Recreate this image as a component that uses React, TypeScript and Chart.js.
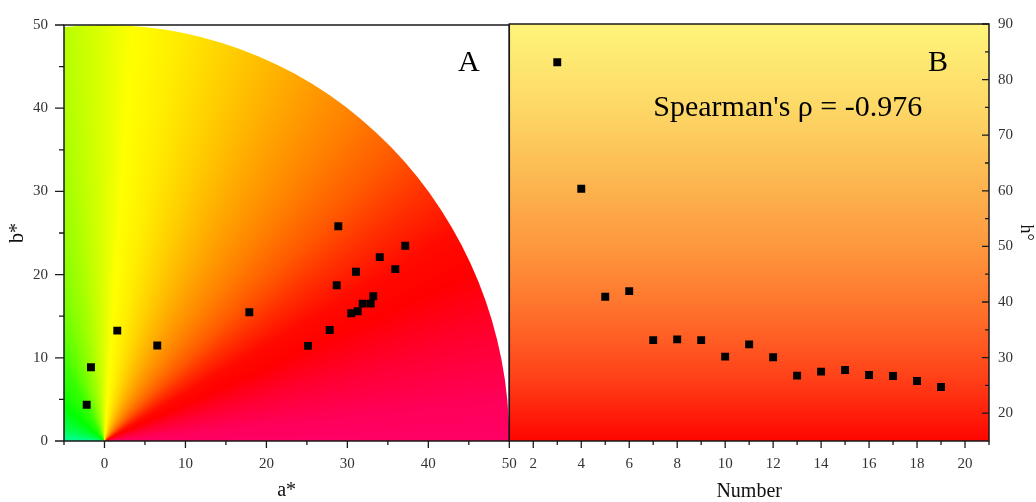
import React, { useEffect, useRef } from 'react';
import { Chart, registerables } from 'chart.js';

Chart.register(...registerables);

// ---------- data ----------
const aStar = [-2.2, -1.67, 1.58, 6.52, 17.89, 25.14, 27.82, 28.68, 31.06, 35.92, 30.48, 31.27, 31.89, 32.88, 33.2, 37.15, 34.0, 28.88];
const bStar = [4.35, 8.87, 13.27, 11.47, 15.47, 11.43, 13.35, 18.71, 20.35, 20.66, 15.35, 15.59, 16.51, 16.51, 17.39, 23.47, 22.1, 25.82];

const sampleNumber = [3, 4, 5, 6, 7, 8, 9, 10, 11, 12, 13, 14, 15, 16, 17, 18, 19];
const hueAngle = [83.12, 60.38, 40.94, 41.95, 33.15, 33.28, 33.15, 30.17, 32.38, 30.05, 26.76, 27.48, 27.77, 26.87, 26.69, 25.79, 24.72];

const aTicks = [0, 10, 20, 30, 40, 50];
const aMinor = [-5, 5, 15, 25, 35, 45];
const bTicks = [0, 10, 20, 30, 40, 50];
const bMinor = [5, 15, 25, 35, 45];
const numTicks = [2, 4, 6, 8, 10, 12, 14, 16, 18, 20];
const numMinor = [3, 5, 7, 9, 11, 13, 15, 17, 19, 21];
const hTicks = [20, 30, 40, 50, 60, 70, 80, 90];
const hMinor = [25, 35, 45, 55, 65, 75, 85];

const CHROMA_MAX = 50;
const labelA = 'A';
const labelB = 'B';
const spearmanText = "Spearman's \u03C1 = -0.976";

// hue angle -> colour (style for the background wheel)
const hueStops: [number, string][] = [
  [180, '#00FF99'], [165, '#00FF50'], [140, '#00FF00'], [118, '#38FF00'], [108, '#70FF00'],
  [98, '#A8FF00'], [91, '#D8FF00'], [86, '#FFFF00'], [80, '#FFEE00'], [72, '#FFD000'],
  [62, '#FFA800'], [52, '#FF8000'], [44, '#FF5A00'], [37, '#FF3000'], [30, '#FF0A00'],
  [24, '#FF0000'], [15, '#FF0030'], [6, '#FF0058'], [0, '#FF0066'],
];
const vertStops: [number, string][] = [
  [0, '#FFF57A'], [0.2, '#FDD866'], [0.4, '#FCB24E'], [0.55, '#FE943C'],
  [0.7, '#FF6E2A'], [0.85, '#FF4018'], [1, '#FF0500'],
];

const SERIF = "'Times New Roman', 'Liberation Serif', serif";
const W = 1036;
const H = 502;
const PLOT_TOP = 24;
const X_AXIS_H = 61;
const LEFT_AXIS_W = 64;
const SPLIT_X = 509.3;
const RIGHT_AXIS_W = 47;
const FRAME = '#1a1a1a';
const TICK_COLOR = '#333';

function tickMarks(ctx: CanvasRenderingContext2D, chart: any, axis: string, values: number[], len: number, side: 'bottom' | 'left' | 'rightIn') {
  const s = chart.scales[axis];
  const ca = chart.chartArea;
  ctx.beginPath();
  values.forEach((v) => {
    const p = s.getPixelForValue(v);
    if (side === 'bottom') {
      ctx.moveTo(p, ca.bottom);
      ctx.lineTo(p, ca.bottom + len);
    } else if (side === 'left') {
      ctx.moveTo(ca.left, p);
      ctx.lineTo(ca.left - len, p);
    } else {
      ctx.moveTo(ca.right, p);
      ctx.lineTo(ca.right - len, p);
    }
  });
  ctx.stroke();
}

function frame(ctx: CanvasRenderingContext2D, ca: any) {
  ctx.save();
  ctx.strokeStyle = FRAME;
  ctx.lineWidth = 1.5;
  ctx.strokeRect(ca.left, ca.top, ca.right - ca.left, ca.bottom - ca.top);
  ctx.restore();
}

const wheelPlugin = {
  id: 'wheel',
  beforeDraw(chart: any) {
    const { ctx, chartArea: ca } = chart;
    const xs = chart.scales.x;
    const ys = chart.scales.y;
    const ox = xs.getPixelForValue(0);
    const oy = ys.getPixelForValue(0);
    const sx = xs.getPixelForValue(1) - ox;
    const sy = oy - ys.getPixelForValue(1);
    ctx.save();
    ctx.beginPath();
    ctx.rect(ca.left, ca.top, ca.right - ca.left, ca.bottom - ca.top);
    ctx.clip();
    ctx.translate(ox, oy);
    ctx.scale(sx, sy);
    const g = ctx.createConicGradient(-Math.PI, 0, 0);
    hueStops.forEach(([h, c]) => g.addColorStop((180 - h) / 360, c));
    g.addColorStop(1, '#FF0066');
    ctx.beginPath();
    ctx.arc(0, 0, CHROMA_MAX, 0, Math.PI * 2);
    ctx.fillStyle = g;
    ctx.fill();
    ctx.restore();
  },
  afterDraw(chart: any) {
    const { ctx, chartArea: ca } = chart;
    ctx.save();
    ctx.strokeStyle = FRAME;
    ctx.lineWidth = 1.3;
    tickMarks(ctx, chart, 'x', aTicks, 7, 'bottom');
    tickMarks(ctx, chart, 'x', aMinor, 4, 'bottom');
    tickMarks(ctx, chart, 'y', bTicks, 9, 'left');
    tickMarks(ctx, chart, 'y', bMinor, 5, 'left');
    ctx.restore();
    frame(ctx, ca);
    ctx.save();
    ctx.fillStyle = '#000';
    ctx.font = `30px ${SERIF}`;
    ctx.textAlign = 'center';
    ctx.textBaseline = 'alphabetic';
    ctx.fillText(labelA, ca.right - 40.5, 71);
    ctx.restore();
  },
};

const gradientPlugin = {
  id: 'vgrad',
  beforeDraw(chart: any) {
    const { ctx, chartArea: ca } = chart;
    const g = ctx.createLinearGradient(0, ca.top, 0, ca.bottom);
    vertStops.forEach(([t, c]) => g.addColorStop(t, c));
    ctx.save();
    ctx.fillStyle = g;
    ctx.fillRect(ca.left, ca.top, ca.right - ca.left, ca.bottom - ca.top);
    ctx.restore();
  },
  afterDraw(chart: any) {
    const { ctx, chartArea: ca } = chart;
    ctx.save();
    ctx.strokeStyle = FRAME;
    ctx.lineWidth = 1.3;
    tickMarks(ctx, chart, 'x', numTicks, 7, 'bottom');
    tickMarks(ctx, chart, 'x', numMinor, 4, 'bottom');
    tickMarks(ctx, chart, 'y', hTicks, 7, 'rightIn');
    tickMarks(ctx, chart, 'y', hMinor, 4, 'rightIn');
    ctx.restore();
    frame(ctx, ca);
    ctx.save();
    ctx.fillStyle = '#000';
    ctx.font = `30px ${SERIF}`;
    ctx.textAlign = 'center';
    ctx.textBaseline = 'alphabetic';
    ctx.fillText(labelB, ca.right - 51, 71);
    ctx.textAlign = 'left';
    ctx.fillText(spearmanText, ca.left + 144, 116);
    ctx.restore();
  },
};

const tickFont = { family: SERIF, size: 15 };
const titleFont = { family: SERIF, size: 20, lineHeight: 1 };

export default function App() {
  const leftRef = useRef<HTMLCanvasElement>(null);
  const rightRef = useRef<HTMLCanvasElement>(null);

  useEffect(() => {
    const left = new Chart(leftRef.current as HTMLCanvasElement, {
      type: 'scatter',
      data: {
        datasets: [
          {
            data: aStar.map((a, i) => ({ x: a, y: bStar[i] })),
            pointStyle: 'rect',
            pointRadius: 5.6,
            pointHoverRadius: 5.6,
            backgroundColor: '#000',
            borderWidth: 0,
          },
        ],
      },
      options: {
        animation: false,
        responsive: false,
        devicePixelRatio: 1,
        layout: { padding: { left: 0, top: PLOT_TOP, right: W - SPLIT_X, bottom: 0 } },
        plugins: { legend: { display: false }, tooltip: { enabled: false } },
        scales: {
          x: {
            type: 'linear',
            min: -5,
            max: 50,
            afterBuildTicks: (s: any) => { s.ticks = aTicks.map((v) => ({ value: v })); },
            afterFit: (s: any) => { s.height = X_AXIS_H; },
            grid: { display: false, drawTicks: false },
            border: { display: false },
            ticks: { font: tickFont, color: TICK_COLOR, padding: 14, maxRotation: 0 },
            title: { display: true, text: 'a*', font: titleFont, color: '#111', padding: { top: 0, bottom: 1 } },
          },
          y: {
            type: 'linear',
            min: 0,
            max: 50,
            afterBuildTicks: (s: any) => { s.ticks = bTicks.map((v) => ({ value: v })); },
            afterFit: (s: any) => { s.width = LEFT_AXIS_W; },
            grid: { display: false, drawTicks: false },
            border: { display: false },
            ticks: { font: tickFont, color: TICK_COLOR, padding: 16 },
            title: { display: true, text: 'b*', font: titleFont, color: '#111', padding: { top: 8, bottom: 0 } },
          },
        },
      },
      plugins: [wheelPlugin],
    } as any);

    const right = new Chart(rightRef.current as HTMLCanvasElement, {
      type: 'scatter',
      data: {
        datasets: [
          {
            data: sampleNumber.map((n, i) => ({ x: n, y: hueAngle[i] })),
            pointStyle: 'rect',
            pointRadius: 5.6,
            pointHoverRadius: 5.6,
            backgroundColor: '#000',
            borderWidth: 0,
          },
        ],
      },
      options: {
        animation: false,
        responsive: false,
        devicePixelRatio: 1,
        layout: { padding: { left: SPLIT_X, top: PLOT_TOP, right: 0, bottom: 0 } },
        plugins: { legend: { display: false }, tooltip: { enabled: false } },
        scales: {
          x: {
            type: 'linear',
            min: 1,
            max: 21,
            afterBuildTicks: (s: any) => { s.ticks = numTicks.map((v) => ({ value: v })); },
            afterFit: (s: any) => { s.height = X_AXIS_H; },
            grid: { display: false, drawTicks: false },
            border: { display: false },
            ticks: { font: tickFont, color: TICK_COLOR, padding: 14, maxRotation: 0 },
            title: { display: true, text: 'Number', font: titleFont, color: '#111', padding: { top: 0, bottom: 0 } },
          },
          y: {
            type: 'linear',
            position: 'right',
            min: 15,
            max: 90,
            afterBuildTicks: (s: any) => { s.ticks = hTicks.map((v) => ({ value: v })); },
            afterFit: (s: any) => { s.width = RIGHT_AXIS_W; },
            grid: { display: false, drawTicks: false },
            border: { display: false },
            ticks: { font: tickFont, color: TICK_COLOR, padding: 9 },
            title: { display: true, text: 'h\u00B0', font: { family: SERIF, size: 18, lineHeight: 1 }, color: '#111', padding: { top: 1, bottom: 0 } },
          },
        },
      },
      plugins: [gradientPlugin],
    } as any);

    return () => {
      left.destroy();
      right.destroy();
    };
  }, []);

  const canvasStyle: React.CSSProperties = { position: 'absolute', left: 0, top: 0, width: W, height: H };
  return (
    <div style={{ position: 'absolute', left: 0, top: 0, width: W, height: H, background: '#fff' }}>
      <canvas ref={leftRef} width={W} height={H} style={canvasStyle} />
      <canvas ref={rightRef} width={W} height={H} style={canvasStyle} />
    </div>
  );
}
